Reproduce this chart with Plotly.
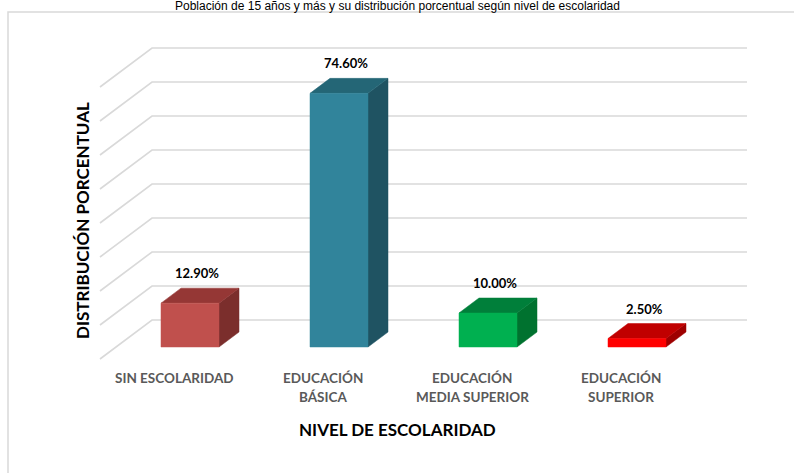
import plotly.graph_objects as go

# ---------------- data ----------------
categories = ["SIN ESCOLARIDAD", "EDUCACIÓN<br>BÁSICA", "EDUCACIÓN<br>MEDIA SUPERIOR", "EDUCACIÓN<br>SUPERIOR"]
values = [12.9, 74.6, 10.0, 2.5]
value_labels = ["12.90%", "74.60%", "10.00%", "2.50%"]
grid_values = [0, 10, 20, 30, 40, 50, 60, 70, 80]
front_colors = ["#C0504D", "#31849B", "#00B050", "#FF0000"]
top_colors = ["#953735", "#246676", "#007F3A", "#C00000"]
side_colors = ["#7B2E2C", "#1F5362", "#00722F", "#9E0000"]
title_text = "Población de 15 años y más y su distribución porcentual según nivel de escolaridad"
x_title = "NIVEL DE ESCOLARIDAD"
y_title = "DISTRIBUCIÓN PORCENTUAL"

# ---------------- geometry (pixel based projection) ----------------
W, H = 794, 473
PX_X = 149.0      # px per category step
PX_Y = 3.4        # px per percent
ORIGIN_X = 190.0  # px of first bar's front centre
ORIGIN_Y = 347.0  # px of value 0 on the front plane

def ux(px):
    return px / PX_X

def uy(px):
    return px / PX_Y

x_range = [-ux(ORIGIN_X), ux(W - ORIGIN_X)]
y_range = [-uy(H - ORIGIN_Y), uy(ORIGIN_Y)]

bar_w = ux(58)
bar_dx, bar_dy = ux(20), uy(15)
wall_dx, wall_dy = ux(36), uy(27)
wall_left = ux(152 - ORIGIN_X)
wall_right = ux(747 - ORIGIN_X)
side_dx, side_dy = ux(52), uy(39)

fig = go.Figure()

# walls / gridlines
gx, gy = [], []
for g in grid_values:
    yb = g + wall_dy
    gx += [wall_left - side_dx, wall_left, wall_right, None]
    gy += [yb - side_dy, yb, yb, None]
fig.add_trace(go.Scatter(x=gx, y=gy, mode="lines",
                         line=dict(color="#D9D9D9", width=1.6),
                         hoverinfo="skip"))

# bars
for i, v in enumerate(values):
    x0, x1 = i - bar_w / 2, i + bar_w / 2
    faces = [
        ([x1, x1 + bar_dx, x1 + bar_dx, x1, x1], [0, bar_dy, v + bar_dy, v, 0], side_colors[i]),
        ([x0, x1, x1 + bar_dx, x0 + bar_dx, x0], [v, v, v + bar_dy, v + bar_dy, v], top_colors[i]),
        ([x0, x1, x1, x0, x0], [0, 0, v, v, 0], front_colors[i]),
    ]
    for fx, fy, col in faces:
        fig.add_trace(go.Scatter(x=fx, y=fy, mode="lines", fill="toself",
                                 fillcolor=col, line=dict(color=col, width=0.5),
                                 hoverinfo="skip"))

annotations = []
# data labels
for i, v in enumerate(values):
    annotations.append(dict(x=i + bar_dx * 0.35, y=v + bar_dy, xref="x", yref="y",
                            text="<b>%s</b>" % value_labels[i], showarrow=False,
                            yshift=15, xanchor="center", yanchor="middle",
                            font=dict(family="Lato", size=13, color="#000000")))
# category labels
for i, c in enumerate(categories):
    for j, line in enumerate(c.split("<br>")):
        annotations.append(dict(x=i - ux(16), y=-uy(31 + 19 * j), xref="x", yref="y",
                                text="<b>%s</b>" % line, showarrow=False,
                                xanchor="center", yanchor="middle",
                                font=dict(family="Lato", size=13.5, color="#595959")))
# axis titles
annotations.append(dict(x=397 / W, y=1 - 429 / H, xref="paper", yref="paper",
                        xanchor="center", yanchor="middle",
                        text="<b>%s</b>" % x_title, showarrow=False,
                        font=dict(family="Lato", size=17, color="#000000")))
annotations.append(dict(x=83 / W, y=1 - 221 / H, xref="paper", yref="paper",
                        xanchor="center", yanchor="middle",
                        text="<b>%s</b>" % y_title, showarrow=False, textangle=-90,
                        font=dict(family="Lato", size=17, color="#000000")))
# title at top (fully visible, in the band above the chart frame)
annotations.append(dict(x=0.5, y=1, xref="paper", yref="paper",
                        xanchor="center", yanchor="top", yshift=3,
                        text=title_text, showarrow=False,
                        font=dict(family="Liberation Sans, Arial", size=12, color="#000000")))

fig.update_layout(
    width=W, height=H,
    margin=dict(l=0, r=0, t=0, b=0),
    paper_bgcolor="white", plot_bgcolor="white",
    showlegend=False,
    xaxis=dict(range=x_range, visible=False, fixedrange=True),
    yaxis=dict(range=y_range, visible=False, fixedrange=True),
    annotations=annotations,
    shapes=[dict(type="rect", xref="paper", yref="paper",
                 x0=8 / W, x1=1.02, y0=-0.02, y1=1 - 12 / H,
                 line=dict(color="#D9D9D9", width=1.5), fillcolor="rgba(0,0,0,0)",
                 layer="below")],
)

fig.write_html("out.html", config={"displayModeBar": False},
               post_script="document.body.style.margin='0';document.body.style.overflow='hidden';")
